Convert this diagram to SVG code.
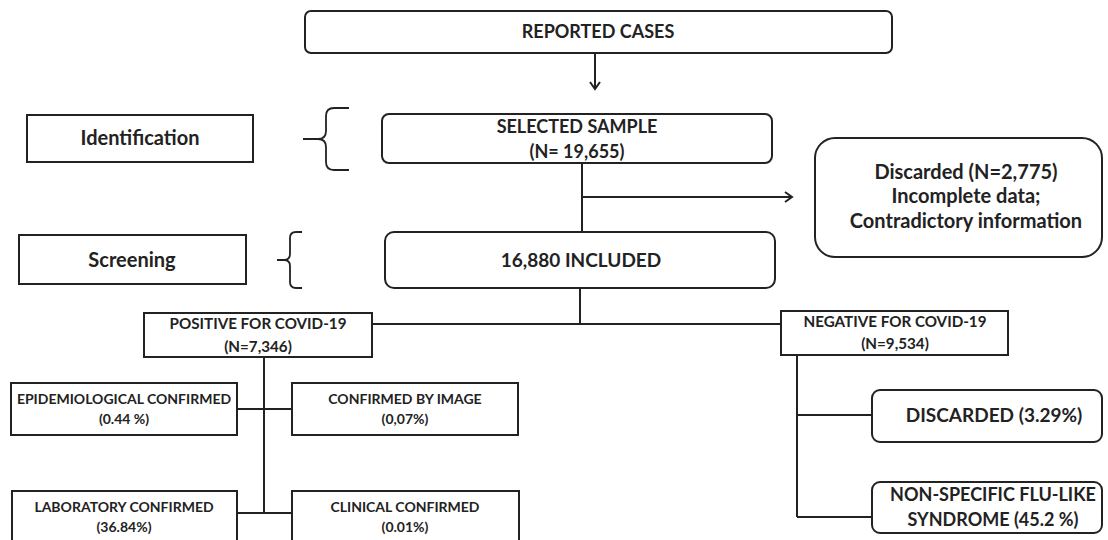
<svg xmlns="http://www.w3.org/2000/svg" width="1108" height="540" viewBox="0 0 1108 540">
<style>
.box{fill:#fff;stroke:#222;stroke-width:2}
.ln{fill:none;stroke:#222;stroke-width:2}
.br{fill:none;stroke:#222;stroke-width:1.8}
text{font-family:Lato,"Liberation Sans",sans-serif;font-weight:bold;fill:#222;text-anchor:middle}
.t18{font-size:18px}
.t19{font-size:19px}
.t20{font-size:20px}
.t14{font-size:14px}
.t15{font-size:15.2px}
</style>
<defs>
<marker id="arr" markerWidth="12" markerHeight="12" refX="10" refY="6" orient="auto" markerUnits="userSpaceOnUse">
<path d="M3,1 L10,6 L3,11" fill="none" stroke="#222" stroke-width="2"/>
</marker>
</defs>
<rect width="1108" height="540" fill="#fff"/>
<g id="connectors">
<line class="ln" x1="595" y1="53" x2="595" y2="89" marker-end="url(#arr)"/>
<line class="ln" x1="582" y1="163" x2="582" y2="232"/>
<line class="ln" x1="582" y1="197" x2="792" y2="197" marker-end="url(#arr)"/>
<line class="ln" x1="580" y1="288" x2="580" y2="324"/>
<line class="ln" x1="372" y1="324" x2="781" y2="324"/>
<line class="ln" x1="264" y1="357" x2="264" y2="513"/>
<line class="ln" x1="237" y1="409" x2="292" y2="409"/>
<line class="ln" x1="237" y1="513" x2="292" y2="513"/>
<line class="ln" x1="797" y1="355" x2="797" y2="517"/>
<line class="ln" x1="797" y1="415" x2="872" y2="415"/>
<line class="ln" x1="797" y1="517" x2="872" y2="517"/>
<path class="br" d="M349,108 L334,108 Q326,108 326,116 L326,131 Q326,139 318,139 L303,139 M318,139 Q326,139 326,147 L326,162 Q326,170 334,170 L349,170"/>
<path class="br" d="M302,232 L296,232 Q290,232 290,238 L290,254 Q290,260 284,260 L277,260 M284,260 Q290,260 290,266 L290,282 Q290,288 296,288 L302,288"/>
</g>
<g id="reported">
<rect class="box" x="305" y="11" width="587" height="42" rx="6"/>
<text class="t18" x="598" y="38">REPORTED CASES</text>
</g>
<g id="identification">
<rect class="box" x="27" y="115" width="226" height="47"/>
<text class="t20" x="140" y="145">Identification</text>
</g>
<g id="selected">
<rect class="box" x="382" y="114" width="390" height="49" rx="7"/>
<text class="t18" x="577" y="133">SELECTED SAMPLE</text>
<text class="t18" x="577" y="158">(N= 19,655)</text>
</g>
<g id="discarded-main">
<rect class="box" x="815" y="138" width="287" height="119" rx="20"/>
<text class="t20" x="966" y="179">Discarded (N=2,775)</text>
<text class="t20" x="966" y="203">Incomplete data;</text>
<text class="t20" x="966" y="228">Contradictory information</text>
</g>
<g id="screening">
<rect class="box" x="19" y="235" width="227" height="49"/>
<text class="t20" x="132" y="267">Screening</text>
</g>
<g id="included">
<rect class="box" x="385" y="232" width="390" height="56" rx="9"/>
<text class="t19" x="581" y="267">16,880 INCLUDED</text>
</g>
<g id="positive">
<rect class="box" x="144" y="313" width="228" height="44"/>
<text class="t15" x="258" y="329">POSITIVE FOR COVID-19</text>
<text class="t15" x="258" y="352">(N=7,346)</text>
</g>
<g id="negative">
<rect class="box" x="781" y="311" width="227" height="44"/>
<text class="t15" x="895" y="327">NEGATIVE FOR COVID-19</text>
<text class="t15" x="895" y="349">(N=9,534)</text>
</g>
<g id="epidemiological">
<rect class="box" x="11" y="383" width="226" height="52"/>
<text class="t14" x="124" y="404">EPIDEMIOLOGICAL CONFIRMED</text>
<text class="t14" x="124" y="424">(0.44 %)</text>
</g>
<g id="image">
<rect class="box" x="292" y="383" width="226" height="52"/>
<text class="t14" x="405" y="404">CONFIRMED BY IMAGE</text>
<text class="t14" x="405" y="424">(0,07%)</text>
</g>
<g id="laboratory">
<rect class="box" x="12" y="491" width="225" height="60"/>
<text class="t14" x="124" y="512">LABORATORY CONFIRMED</text>
<text class="t14" x="124" y="532">(36.84%)</text>
</g>
<g id="clinical">
<rect class="box" x="292" y="491" width="227" height="60"/>
<text class="t14" x="405" y="512">CLINICAL CONFIRMED</text>
<text class="t14" x="405" y="532">(0.01%)</text>
</g>
<g id="discarded-neg">
<rect class="box" x="872" y="390" width="230" height="52" rx="8"/>
<text class="t19" x="994" y="422">DISCARDED (3.29%)</text>
</g>
<g id="nonspecific">
<rect class="box" x="872" y="482" width="230" height="51" rx="8"/>
<text class="t18" x="993" y="501">NON-SPECIFIC FLU-LIKE</text>
<text class="t18" x="993" y="526">SYNDROME (45.2 %)</text>
</g>
</svg>
